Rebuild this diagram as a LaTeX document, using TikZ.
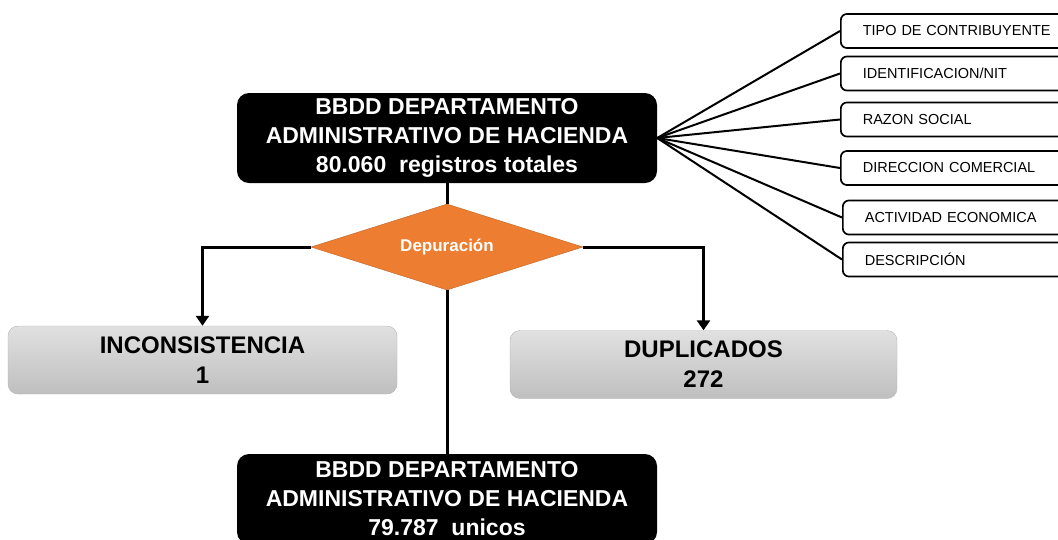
\documentclass[tikz,border=0pt]{standalone}
\usepackage{fontspec}
\setmainfont{Liberation Sans}
\usetikzlibrary{shapes.geometric, arrows.meta, positioning}
\definecolor{deporange}{RGB}{237,125,49}
\definecolor{grisborde}{RGB}{180,180,180}

\begin{document}
\begin{tikzpicture}[
    x=1pt, y=-1pt,
    bbdd/.style={fill=black, text=white, rounded corners=12pt, minimum width=420pt, minimum height=90pt, inner sep=0pt, align=center, font=\fontsize{23}{29}\selectfont\bfseries},
    decision/.style={diamond, aspect=3.2, draw=deporange!80!black, fill=deporange, minimum width=272pt, minimum height=86pt, inner sep=0pt, text=white, font=\fontsize{17}{20}\selectfont\bfseries},
    result/.style={draw=grisborde, top color=black!12, bottom color=black!25, rounded corners=10pt, minimum height=68pt, inner sep=0pt, align=center, font=\fontsize{24}{30}\selectfont\bfseries},
    campo/.style={draw, line width=1.7pt, rounded corners=6pt, minimum width=235pt, minimum height=34pt, inner sep=0pt, anchor=west, text width=191pt, font=\fontsize{14.5}{16}\selectfont},
    line/.style={line width=3pt},
    arrow/.style={line width=3pt, -{Triangle[length=10pt, width=13pt]}},
    fan/.style={line width=2pt}
]
    \clip (0,0) rectangle (1058,539);
    \node[bbdd] (total) at (447,138) {BBDD DEPARTAMENTO\\ADMINISTRATIVO DE HACIENDA\\80.060~ registros totales};
    \node[decision] (dep) at (447,247) {Depuración};
    \node[result, minimum width=389pt] (incons) at (202.5,360) {INCONSISTENCIA\\1};
    \node[result, minimum width=387pt] (dupl) at (703.5,364.5) {DUPLICADOS\\272};
    \node[bbdd] (unicos) at (447,499) {BBDD DEPARTAMENTO\\ADMINISTRATIVO DE HACIENDA\\79.787~ unicos};

    \node[campo] (tipo) at (840,31) {TIPO DE CONTRIBUYENTE};
    \node[campo] (nit) at (840,73.5) {IDENTIFICACION/NIT};
    \node[campo] (razon) at (840,119.5) {RAZON SOCIAL};
    \node[campo] (dir) at (840,168) {DIRECCION COMERCIAL};
    \node[campo] (act) at (842,217.5) {ACTIVIDAD ECONOMICA};
    \node[campo] (desc) at (842,259.5) {DESCRIPCIÓN};

    \draw[line] (total.south) -- (dep.north);
    \draw[line] (dep.south) -- (unicos.north);
    \draw[arrow] (dep.west) -| (incons.north);
    \draw[arrow] (dep.east) -| (dupl.north);

    \foreach \c in {tipo, nit, razon, dir, act, desc}
        \draw[fan] (total.east) -- (\c.west);
\end{tikzpicture}
\end{document}
